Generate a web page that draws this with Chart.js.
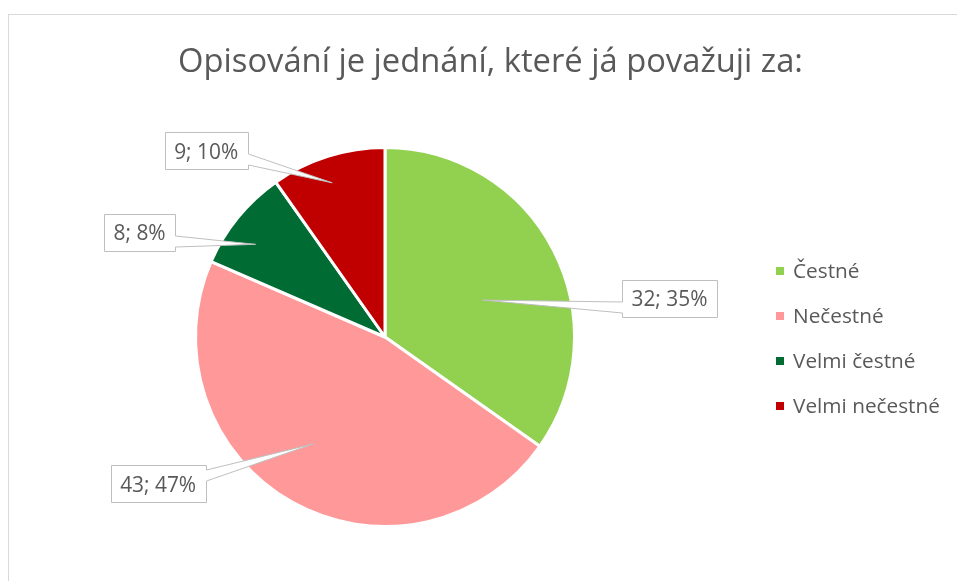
<!DOCTYPE html>
<html><head><meta charset="utf-8">
<script src="https://cdn.jsdelivr.net/npm/chart.js@4.4.0/dist/chart.umd.min.js"></script>
<style>html,body{margin:0;padding:0;background:#fff;overflow:hidden}canvas{display:block}</style>
</head><body>
<canvas id="c" width="957" height="581"></canvas>
<script>
const TITLE = 'Opisování je jednání, které já považuji za:';
const categories = ['Čestné', 'Nečestné', 'Velmi čestné', 'Velmi nečestné'];
const counts = [32, 43, 8, 9];
const percents = [35, 47, 8, 10];
const colors = ['#92D050', '#FF9999', '#006B33', '#C00000'];

const FONT = '"Open Sans", "Liberation Sans", sans-serif';
const TEXT = '#595959';
// callout placement: position of the pointer tip inside the slice, and box offset from tip
const calloutLayout = [
  {along: 0.553, rad: 0.55, dx: 187, dy: -2},
  {along: 0.527, rad: 0.68, dx: -155, dy: 40},
  {along: 0.387, rad: 0.84, dx: -116, dy: -12},
  {along: 0.463, rad: 0.86, dx: -126, dy: -32}
];

function fitSize(ctx, text, target, weight) {
  ctx.font = (weight || '') + ' 100px ' + FONT;
  return 100 * target / ctx.measureText(text).width;
}
function capHeight(ctx) {
  const m = ctx.measureText('H');
  return m.actualBoundingBoxAscent;
}
function callout(ctx, bx, by, bw, bh, tx, ty) {
  const L = Math.round(bx) + 0.5, T = Math.round(by) + 0.5;
  const R = L + Math.round(bw), B = T + Math.round(bh);
  const cy = (T + B) / 2;
  const up = ty < cy;
  const b1 = up ? cy - 14 : cy + 3, b2 = up ? cy - 3 : cy + 14;
  ctx.beginPath();
  ctx.moveTo(L, T); ctx.lineTo(R, T);
  if (tx > R) { ctx.lineTo(R, b1); ctx.lineTo(tx, ty); ctx.lineTo(R, b2); }
  ctx.lineTo(R, B); ctx.lineTo(L, B);
  if (tx < L) { ctx.lineTo(L, b2); ctx.lineTo(tx, ty); ctx.lineTo(L, b1); }
  ctx.closePath();
  ctx.fillStyle = '#fff'; ctx.fill();
  ctx.strokeStyle = '#BFBFBF'; ctx.lineWidth = 1; ctx.stroke();
}

const decor = {
  id: 'decor',
  afterDraw(chart) {
    const ctx = chart.ctx;
    ctx.save();
    // chart frame
    ctx.strokeStyle = '#D9D9D9'; ctx.lineWidth = 1;
    ctx.strokeRect(8.5, 14.5, 1200, 1200);
    // title
    let s = fitSize(ctx, TITLE, 625);
    ctx.font = s + 'px ' + FONT;
    ctx.fillStyle = TEXT; ctx.textAlign = 'center'; ctx.textBaseline = 'alphabetic';
    ctx.fillText(TITLE, 490.5, 72);
    // legend
    const ls = fitSize(ctx, categories[3], 147);
    ctx.font = ls + 'px ' + FONT;
    const lch = capHeight(ctx);
    ctx.textAlign = 'left';
    const ds = chart.data.datasets[0];
    chart.data.labels.forEach((lab, i) => {
      const cy = 271 + i * 45;
      ctx.fillStyle = ds.backgroundColor[i];
      ctx.fillRect(776, cy - 4, 8, 8);
      ctx.fillStyle = TEXT;
      ctx.fillText(lab, 793, cy + lch / 2);
    });
    // data callouts
    const meta = chart.getDatasetMeta(0);
    const fs = fitSize(ctx, counts[0] + '; ' + percents[0] + '%', 76);
    ctx.font = fs + 'px ' + FONT;
    const ch = capHeight(ctx);
    meta.data.forEach((arc, i) => {
      const p = arc.getProps(['x', 'y', 'startAngle', 'endAngle', 'outerRadius'], true);
      const lay = calloutLayout[i];
      const a = p.startAngle + lay.along * (p.endAngle - p.startAngle);
      const tx = p.x + lay.rad * p.outerRadius * Math.cos(a);
      const ty = p.y + lay.rad * p.outerRadius * Math.sin(a);
      const txt = counts[i] + '; ' + percents[i] + '%';
      ctx.font = fs + 'px ' + FONT;
      const w = ctx.measureText(txt).width + 19, h = 37;
      const cx = tx + lay.dx, cyy = ty + lay.dy;
      callout(ctx, cx - w / 2, cyy - h / 2, w, h, tx, ty);
      ctx.fillStyle = TEXT; ctx.textAlign = 'center'; ctx.textBaseline = 'alphabetic';
      ctx.fillText(txt, cx, cyy + ch / 2);
    });
    ctx.restore();
  }
};

new Chart(document.getElementById('c'), {
  type: 'pie',
  data: {
    labels: categories,
    datasets: [{
      data: counts,
      backgroundColor: colors,
      borderColor: '#FFFFFF',
      borderWidth: 3
    }]
  },
  options: {
    responsive: false,
    animation: false,
    devicePixelRatio: 1,
    layout: {padding: {left: 194, right: 381, top: 146, bottom: 53}},
    plugins: {legend: {display: false}, tooltip: {enabled: false}, title: {display: false}}
  },
  plugins: [decor]
});
</script>
</body></html>
